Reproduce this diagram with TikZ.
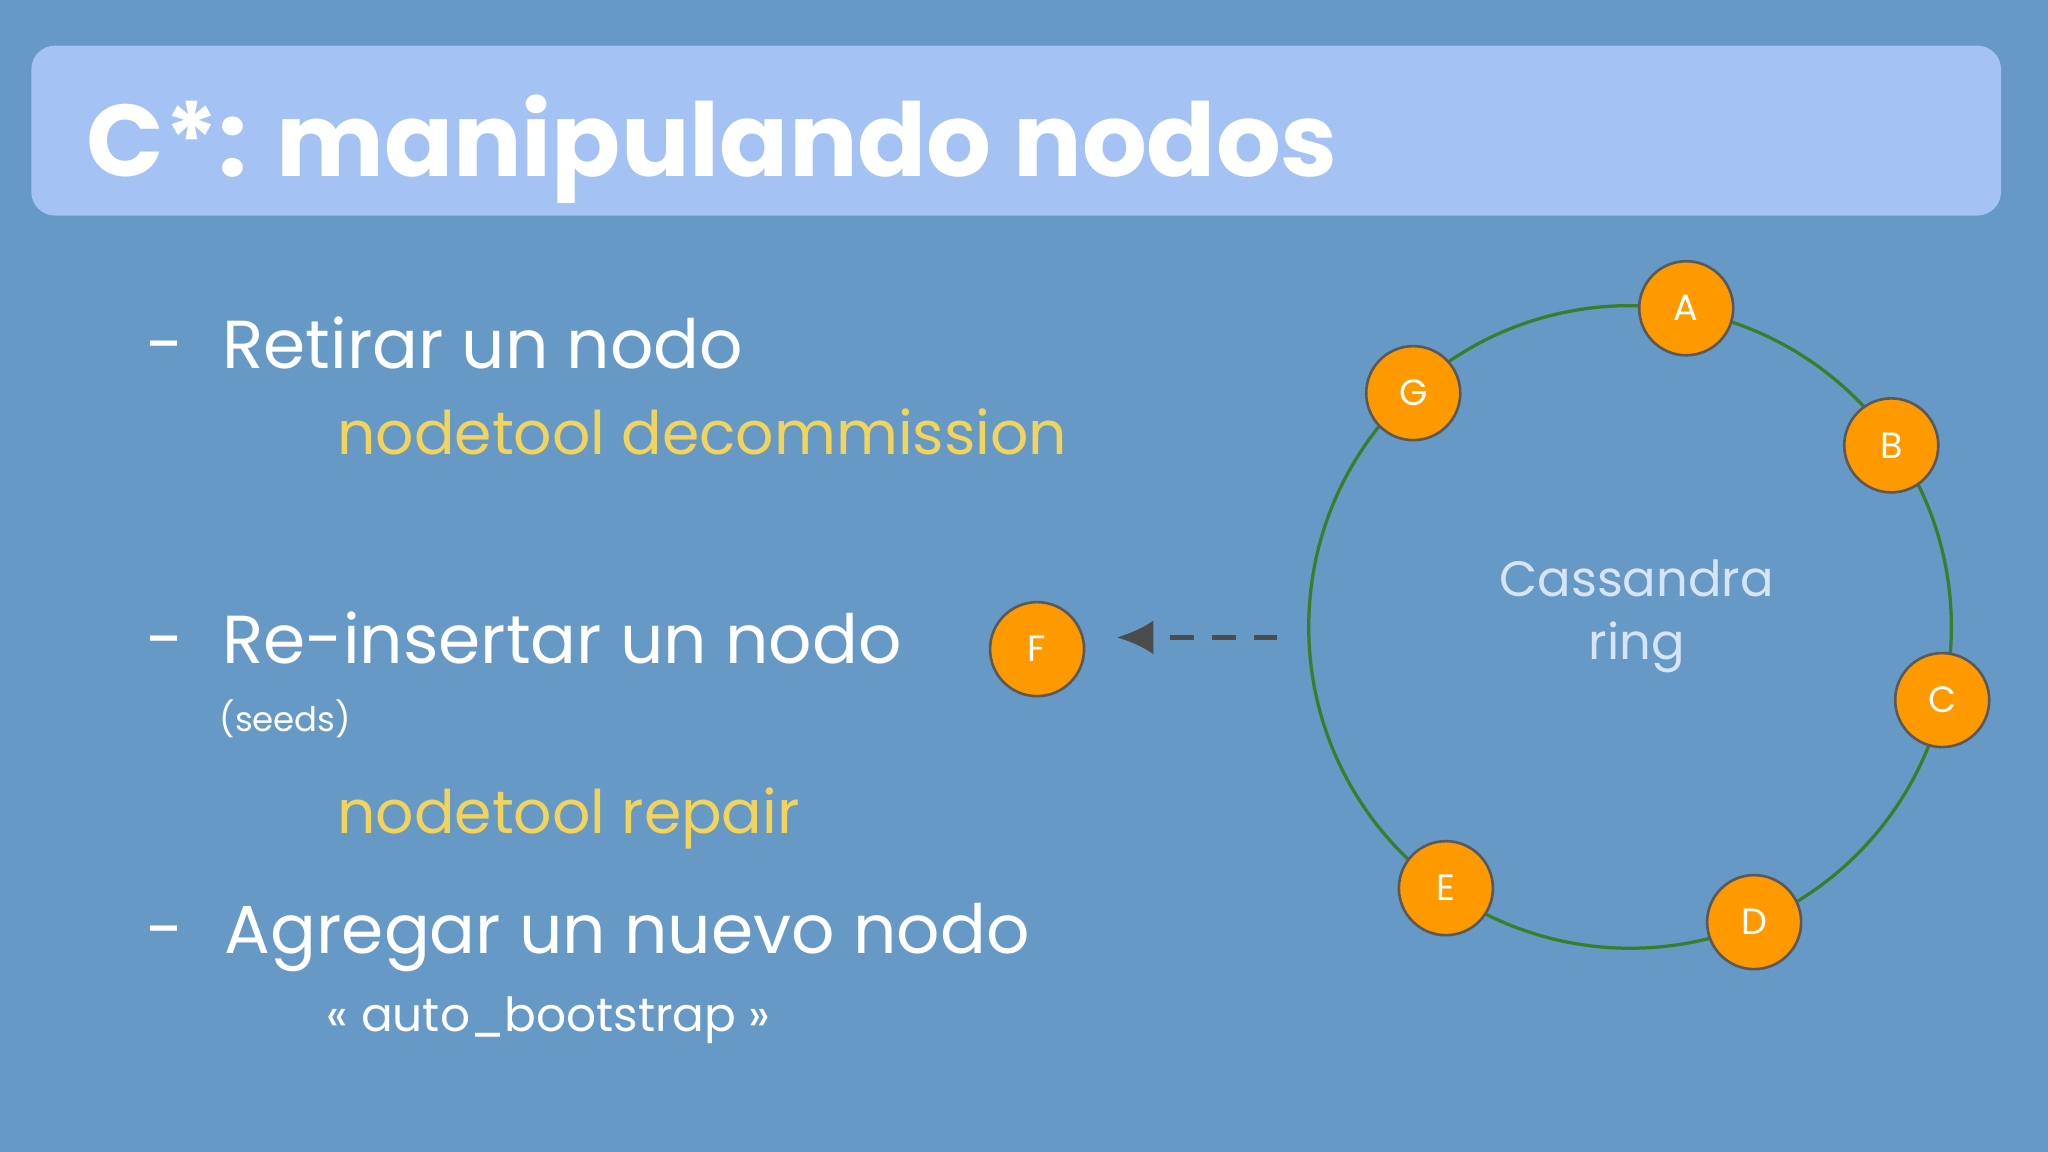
\documentclass[tikz,border=0pt]{standalone}
\usepackage{fontspec}
\setmainfont{Poppins}
\usetikzlibrary{arrows.meta}
\definecolor{bg}{HTML}{6699C6}
\definecolor{titlebg}{HTML}{A4C2F4}
\definecolor{ringg}{HTML}{3A7D2A}
\definecolor{orng}{HTML}{FF9900}
\definecolor{codey}{HTML}{F2D45C}
\definecolor{ringtxt}{HTML}{D6E4F5}
\tikzset{x=1pt,y=-1pt,
 ringnode/.style={circle,fill=orng,draw=black!65,line width=2pt,minimum size=72pt,inner sep=0pt,text=white,font=\fontsize{28}{30}\selectfont},
 txt/.style={anchor=base west,text=white,inner sep=0pt},
 big/.style={font=\fontsize{52}{56}\selectfont},
 code/.style={anchor=base west,text=codey,inner sep=0pt,font=\fontsize{46}{50}\selectfont}}
\begin{document}
\begin{tikzpicture}
\fill[bg] (0,0) rectangle (1568,882);
\useasboundingbox (0,0) rectangle (1568,882);
\fill[titlebg,rounded corners=18pt] (24,35) rectangle (1532,165);
\node[txt,font=\fontsize{78}{80}\selectfont\bfseries] (title) at (66,135) {C*: manipulando nodos};
\node[txt,big] (d1) at (112,282) {-};
\node[txt,big] (t1) at (170,282) {Retirar un nodo};
\node[code] (c1) at (258,348) {nodetool decommission};
\node[txt,big] (d2) at (112,508) {-};
\node[txt,big] (t2) at (170,508) {Re-insertar un nodo};
\node[txt,font=\fontsize{26}{28}\selectfont] (s) at (168,560) {(seeds)};
\node[code] (c2) at (258,638) {nodetool repair};
\node[txt,big] (d3) at (112,730) {-};
\node[txt,big] (t3) at (172,730) {Agregar un nuevo nodo};
\node[txt,font=\fontsize{36}{38}\selectfont] (ab) at (250,790) {<< auto\_bootstrap >>};
\coordinate (ctr) at (1248,480);
\draw[ringg,line width=2.5pt] (ctr) circle (246);
\node[text=ringtxt,align=center,font=\fontsize{38}{48}\selectfont] (rl) at (1253,472) {Cassandra\\ring};
\node[ringnode] (A) at (1291,236) {A};
\node[ringnode] (B) at (1448,341) {B};
\node[ringnode] (C) at (1487,536) {C};
\node[ringnode] (D) at (1343,706) {D};
\node[ringnode] (E) at (1107,680) {E};
\node[ringnode] (G) at (1082,301) {G};
\node[ringnode] (F) at (794,497) {F};
\coordinate (src) at (978,488);
\coordinate (dst) at (855,488);
\draw[black!70,line width=4pt,dash pattern=on 18pt off 14pt,-{Latex[length=28pt,width=26pt]}] (src) -- (dst);
\end{tikzpicture}
\end{document}
